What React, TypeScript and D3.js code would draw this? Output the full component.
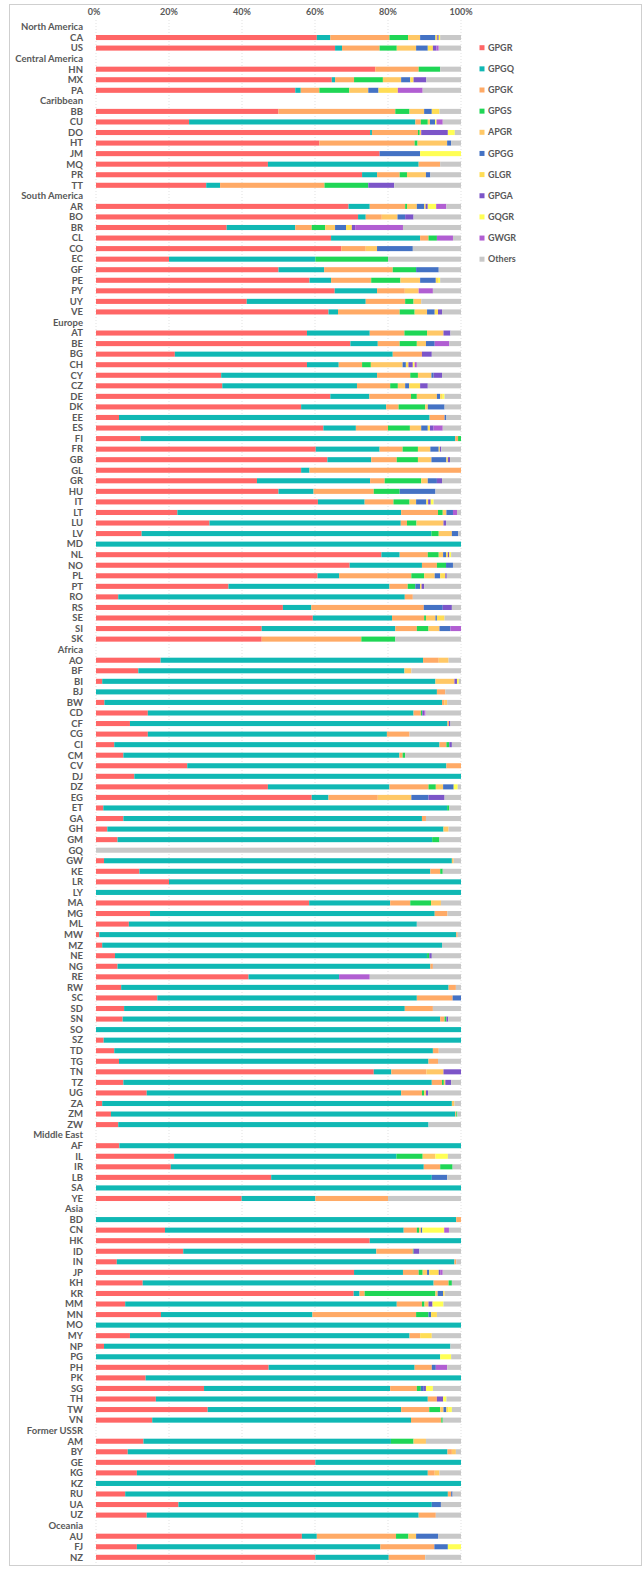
import * as d3 from 'd3';

const seriesKeys = ['GPGR', 'GPGQ', 'GPGK', 'GPGS', 'APGR', 'GPGG', 'GLGR', 'GPGA', 'GQGR', 'GWGR', 'Others'];
const seriesColors = ['#ff6666', '#10b8b4', '#ffaa66', '#1fd655', '#ffc866', '#4472c4', '#ffdd55', '#7c55c8', '#ffff55', '#b15ed2', '#c8c8c8'];
const tickValues = [0, 20, 40, 60, 80, 100];

// shares per country, in series order (Others = remainder to 100%)
const northAmerica: [string, number[]][] = [
  ['CA', [60.5, 3.7, 16.2, 5.1, 3.3, 4.2, 0.5, 0.4, 0.4, 0]],
  ['US', [65.5, 1.9, 10.3, 4.7, 5.3, 3.2, 1.4, 1.0, 0, 0.6]],
];
const centralAmerica: [string, number[]][] = [
  ['HN', [76.5, 0, 11.9, 5.9]],
  ['MX', [64.6, 0.9, 5.2, 7.9, 5.0, 2.5, 0.9, 3.5]],
  ['PA', [54.6, 1.5, 5.1, 8.2, 5.2, 2.8, 5.3, 0, 0, 6.8]],
];
const caribbean: [string, number[]][] = [
  ['BB', [50, 0, 32, 3.9, 4.0, 2.1, 2.1]],
  ['CU', [25.5, 62.0, 1.5, 1.9, 0.6, 1.4, 0, 0, 0.4, 1.7]],
  ['DO', [75.1, 0.5, 12.6, 0.5, 0.4, 0, 0, 7.3, 1.9]],
  ['HT', [61.2, 0, 26.1, 0.8, 8.1, 1.1]],
  ['JM', [77.7, 0, 0, 0, 0, 11.1, 0, 0, 11.2]],
  ['MQ', [47.1, 41.3, 5.9]],
  ['PR', [72.9, 4.1, 6.2, 2.0, 5.2, 1.2]],
  ['TT', [30.2, 3.8, 28.6, 12.0, 0, 0, 0, 7.1]],
];
const southAmerica: [string, number[]][] = [
  ['AR', [69.2, 5.8, 9.7, 0.5, 2.7, 2.0, 0.4, 0.6, 2.3, 2.8]],
  ['BO', [71.8, 2.1, 4.4, 0, 4.3, 2.1, 0, 2.3]],
  ['BR', [35.8, 18.8, 4.5, 3.7, 2.7, 3.0, 1.6, 0.9, 0, 13.1]],
  ['CL', [64.4, 24.4, 2.3, 2.3, 0, 0, 0, 0, 0, 4.4]],
  ['CO', [67.2, 0, 6.7, 0, 3.1, 9.8]],
  ['EC', [20.0, 40.1, 0, 19.9]],
  ['GF', [50.0, 12.5, 18.8, 6.4, 0, 6.2]],
  ['PE', [58.5, 5.9, 11.0, 8.0, 5.4, 4.3, 0.8, 0, 0.4]],
  ['PY', [65.4, 11.6, 7.6, 0, 3.8, 0, 0, 0, 0, 3.9]],
  ['UY', [41.3, 32.6, 10.8, 2.3, 2.1]],
  ['VE', [63.7, 2.6, 16.9, 4.1, 3.4, 2.1, 0.9, 1.1]],
];
const europe: [string, number[]][] = [
  ['AT', [57.8, 17.2, 9.5, 6.2, 4.5, 0, 0, 1.9]],
  ['BE', [69.7, 7.5, 6.0, 4.7, 2.5, 2.4, 0, 0, 0, 4.0]],
  ['BG', [21.6, 59.7, 8.0, 0, 0, 0, 0, 2.7]],
  ['CH', [57.8, 8.7, 6.4, 2.4, 8.7, 0.9, 0.7, 1.2, 0.5, 0.6]],
  ['CY', [34.3, 42.7, 9.1, 2.1, 3.7, 0.6, 0, 2.3]],
  ['CZ', [34.6, 36.9, 9.1, 2.1, 2.0, 1.1, 3.0, 2.1]],
  ['DE', [64.2, 10.7, 11.4, 1.6, 5.5, 0.9, 0.7, 0, 0.5]],
  ['DK', [56.2, 23.3, 3.4, 7.3, 0.7, 4.6]],
  ['EE', [6.3, 85.1, 4.1, 0, 0, 0.5]],
  ['ES', [62.3, 8.9, 8.8, 6.0, 3.1, 1.8, 0.6, 1.0, 0, 2.5]],
  ['FI', [12.2, 86.2, 0.8, 0.8]],
  ['FR', [60.2, 17.5, 6.3, 4.2, 3.4, 2.3, 0.3, 0.4]],
  ['GB', [63.4, 12.0, 7.0, 5.8, 3.7, 4.1, 0.4, 0.6]],
  ['GL', [56.2, 2.3, 41.5]],
  ['GR', [44.1, 31.0, 4.0, 10.0, 1.8, 2.5, 0, 1.4]],
  ['HU', [50.0, 9.6, 16.5, 7.1, 0, 9.8]],
  ['IT', [60.8, 12.8, 7.9, 4.4, 1.8, 2.8, 0.5, 0.7, 0.8]],
  ['LT', [22.3, 61.3, 10.1, 1.3, 1.0, 1.8, 0, 0, 0, 1.1]],
  ['LU', [31.1, 52.4, 1.7, 2.6, 7.4, 0, 0, 0.7]],
  ['LV', [12.5, 79.4, 0, 2.0, 3.6, 1.7]],
  ['MD', [0, 100]],
  ['NL', [78.2, 5.0, 7.7, 3.0, 1.2, 0.8, 0.5, 0.4, 0.5]],
  ['NO', [69.5, 19.8, 4.1, 2.5, 0, 1.9]],
  ['PL', [60.7, 5.9, 19.8, 3.5, 2.9, 1.5, 1.4, 0.4]],
  ['PT', [36.3, 44.1, 5.0, 2.1, 0, 1.3, 0.4, 0.7]],
  ['RO', [6.1, 78.5, 2.2]],
  ['RS', [51.2, 7.8, 30.8, 0, 0, 5.2, 0, 2.5]],
  ['SE', [59.4, 21.7, 8.8, 0.5, 2.6, 0.4, 2.1]],
  ['SI', [45.4, 36.6, 5.9, 3.2, 3.0, 3.0, 0, 0, 0, 2.9]],
  ['SK', [45.4, 0, 27.3, 9.3]],
];
const africa: [string, number[]][] = [
  ['AO', [17.7, 71.9, 4.3, 0, 2.7]],
  ['BF', [11.6, 72.9, 0, 0, 1.9]],
  ['BI', [1.7, 91.3, 0, 0, 5.2, 0, 0, 0.7, 0.5]],
  ['BJ', [0, 93.4, 2.3]],
  ['BW', [2.3, 92.5, 0.6, 0, 0.8]],
  ['CD', [14.2, 72.8, 2.0, 0.4, 0, 0, 0, 0.5, 0, 0.4]],
  ['CF', [9.3, 87.0, 0.4, 0, 0, 0, 0, 0.4]],
  ['CG', [14.2, 65.5, 6.2]],
  ['CI', [5.0, 89.1, 1.9, 0.8, 0, 0, 0, 0.7]],
  ['CM', [7.5, 75.6, 0.9, 0.7]],
  ['CV', [25.0, 71.0, 4.0]],
  ['DJ', [10.5, 89.5]],
  ['DZ', [47.1, 33.3, 10.7, 2.0, 2.0, 2.9, 0, 0, 1.1]],
  ['EG', [59.1, 4.6, 13.5, 0, 9.2, 4.7, 0, 4.4]],
  ['ET', [2.0, 94.2, 0, 0.6]],
  ['GA', [7.5, 81.8, 1.1]],
  ['GH', [3.1, 92.1, 0, 0, 1.4]],
  ['GM', [5.9, 86.2, 0, 2.0]],
  ['GQ', []],
  ['GW', [2.2, 95.3, 0, 0, 0.5]],
  ['KE', [11.9, 79.7, 2.7, 0.7]],
  ['LR', [20.0, 80.0]],
  ['LY', [0, 100]],
  ['MA', [58.4, 22.2, 5.5, 5.7, 2.7]],
  ['MG', [14.8, 78.0, 3.5]],
  ['ML', [9.0, 78.9]],
  ['MW', [0.9, 97.8, 0.4]],
  ['MZ', [1.7, 93.1]],
  ['NE', [5.2, 85.5, 0, 0.6, 0, 0, 0, 0.7]],
  ['NG', [5.9, 85.7, 0.7]],
  ['RE', [41.8, 24.8, 0, 0, 0, 0, 0, 0, 0, 8.4]],
  ['RW', [6.9, 89.7, 2.0]],
  ['SC', [16.8, 71.1, 9.8, 0, 0, 2.3]],
  ['SD', [7.7, 76.9, 7.7]],
  ['SN', [7.3, 87.0, 1.2, 0.5, 0, 0, 0, 0.5]],
  ['SO', [0, 100]],
  ['SZ', [2.1, 97.9]],
  ['TD', [5.0, 87.3, 1.6]],
  ['TG', [6.3, 84.8, 2.6]],
  ['TN', [76.1, 4.8, 9.6, 0, 4.7, 0, 0, 4.8]],
  ['TZ', [7.5, 84.5, 2.8, 0.5, 0.4, 0, 0, 1.6]],
  ['UG', [13.9, 69.7, 5.7, 0.6, 0.5, 0, 0, 0.6]],
  ['ZA', [1.7, 95.8, 0, 0, 0.7]],
  ['ZM', [4.1, 94.3, 0.3, 0.3]],
  ['ZW', [6.1, 85.0]],
];
const middleEast: [string, number[]][] = [
  ['AF', [6.4, 93.6]],
  ['IL', [21.4, 60.9, 0, 7.2, 3.5, 0, 0, 0, 3.4]],
  ['IR', [20.5, 69.3, 4.5, 3.4]],
  ['LB', [48.0, 44.0, 0, 0, 0, 4.2]],
  ['SA', [0, 100]],
  ['YE', [39.9, 20.2, 19.9]],
];
const asia: [string, number[]][] = [
  ['BD', [0, 98.7, 1.3]],
  ['CN', [18.9, 65.4, 3.6, 0.6, 0.5, 0.4, 0, 0, 6.0, 1.3]],
  ['HK', [75.0, 25.0]],
  ['ID', [23.9, 52.9, 10.0, 0.2, 0, 0, 0, 1.6]],
  ['IN', [5.7, 92.5, 0.5]],
  ['JP', [70.7, 13.4, 4.3, 1.1, 1.2, 0.6, 2.6, 0.4, 0, 0.7]],
  ['KH', [12.8, 79.7, 4.1, 0.9]],
  ['KR', [70.6, 1.6, 1.4, 19.4, 0.6, 1.5, 0.4]],
  ['MM', [8.0, 74.4, 6.9, 0.7, 1.1, 0, 0, 1.1, 3.0]],
  ['MN', [17.8, 41.5, 28.4, 3.4, 0, 0.7, 1.6]],
  ['MO', [0, 100]],
  ['MY', [9.3, 76.6, 2.9, 0, 0, 0, 3.2]],
  ['NP', [2.2, 94.9]],
  ['PG', [0, 94.3, 0, 0, 0, 0, 0, 0, 3.0]],
  ['PH', [47.3, 40.0, 4.7, 0, 0, 1.1, 0, 0, 0, 3.1]],
  ['PK', [13.6, 86.4]],
  ['SG', [29.6, 51.0, 7.3, 1.1, 0, 0.8, 0, 0.6, 1.9]],
  ['TH', [16.4, 74.5, 2.5, 0, 0, 0, 0, 1.7, 0.9]],
  ['TW', [30.6, 53.0, 7.7, 3.0, 0.9, 0.8, 0.6, 0, 0.9]],
  ['VN', [15.4, 70.9, 8.3, 0.4]],
];
const formerUSSR: [string, number[]][] = [
  ['AM', [13.0, 67.8, 0, 6.2, 3.4]],
  ['BY', [8.7, 87.6, 1.2, 0, 1.1]],
  ['GE', [60.1, 39.9]],
  ['KG', [11.2, 79.7, 1.9, 0, 1.3]],
  ['KZ', [0, 100]],
  ['RU', [8.0, 88.4, 0.9, 0, 0, 0.4]],
  ['UA', [22.6, 69.4, 0, 0, 0, 2.5]],
  ['UZ', [13.9, 74.5, 4.7]],
];
const oceania: [string, number[]][] = [
  ['AU', [56.4, 4.1, 21.7, 3.4, 2.1, 6.0]],
  ['FJ', [11.2, 66.7, 14.8, 0, 0, 3.7, 0, 0, 3.6]],
  ['NZ', [60.1, 20.1, 10.0]],
];

const regions: [string, [string, number[]][]][] = [
  ['North America', northAmerica],
  ['Central America', centralAmerica],
  ['Caribbean', caribbean],
  ['South America', southAmerica],
  ['Europe', europe],
  ['Africa', africa],
  ['Middle East', middleEast],
  ['Asia', asia],
  ['Former USSR', formerUSSR],
  ['Oceania', oceania],
];

interface Row {
  key: string;
  label: string;
  header: boolean;
}

const W = 644;
const H = 1570;
const textColor = '#595959';
const font = "Lato, 'Open Sans', sans-serif";

export default function App() {
  const rows: Row[] = [];
  const countries: Record<string, number | string>[] = [];
  regions.forEach(([name, list]) => {
    rows.push({ key: 'region:' + name, label: name, header: true });
    list.forEach(([code, vals]) => {
      rows.push({ key: code, label: code, header: false });
      const d: Record<string, number | string> = { key: code };
      let sum = 0;
      seriesKeys.slice(0, 10).forEach((k, i) => {
        const v = vals[i] || 0;
        d[k] = v;
        sum += v;
      });
      d.Others = Math.max(0, 100 - sum);
      countries.push(d);
    });
  });

  const x = d3.scaleLinear().domain([0, 100]).range([96, 461]);
  const y = d3
    .scaleBand()
    .domain(rows.map((r) => r.key))
    .range([21.7, 1562.6])
    .paddingInner(0.52)
    .paddingOuter(0.26);
  const bw = y.bandwidth();
  const cy = (k: string) => (y(k) || 0) + bw / 2;

  const stacked = d3.stack<Record<string, number | string>>().keys(seriesKeys)(countries as any);

  return (
    <div style={{ position: 'absolute', left: 0, top: 0 }}>
      <svg width={W} height={H} style={{ display: 'block', background: '#fff' }}>
        <rect x={9.5} y={4.5} width={632} height={1561} fill="#fff" stroke="#cfcfcf" />
        {tickValues.map((t) => (
          <g key={t}>
            <line
              x1={x(t)}
              x2={x(t)}
              y1={20}
              y2={1563}
              stroke="#d9d9d9"
              strokeWidth={0.8}
              strokeDasharray="1,2"
            />
            <text
              x={x(t) - (t === 0 ? 2 : 0)}
              y={15}
              textAnchor="middle"
              fontSize={9}
              fontWeight={700}
              fontFamily={font}
              fill={textColor}
            >
              {t}%
            </text>
          </g>
        ))}
        {stacked.map((layer, li) => (
          <g key={layer.key} fill={seriesColors[li]}>
            {layer.map((seg) => {
              const w = x(seg[1]) - x(seg[0]);
              if (w <= 0) return null;
              const k = seg.data.key as string;
              return <rect key={k} x={x(seg[0])} y={y(k)} width={w} height={bw} />;
            })}
          </g>
        ))}
        {rows.map((r) => (
          <text
            key={r.key}
            x={83}
            y={cy(r.key)}
            dy="0.35em"
            textAnchor="end"
            fontSize={9.5}
            fontWeight={700}
            fontFamily={font}
            fill={textColor}
          >
            {r.label}
          </text>
        ))}
        {seriesKeys.map((k, i) => {
          const ly = 47.7 + i * 21.15;
          return (
            <g key={k}>
              <rect x={479.5} y={ly - 2.5} width={5} height={5} fill={seriesColors[i]} />
              <text
                x={488}
                y={ly}
                dy="0.35em"
                fontSize={9}
                fontWeight={700}
                fontFamily={font}
                fill={textColor}
              >
                {k}
              </text>
            </g>
          );
        })}
      </svg>
    </div>
  );
}
